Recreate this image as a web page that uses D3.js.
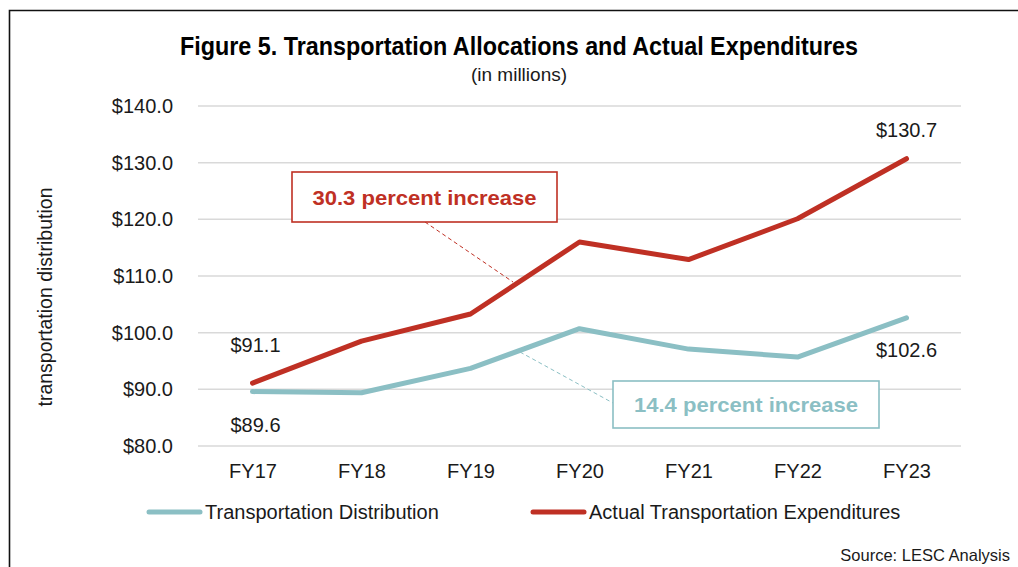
<!DOCTYPE html>
<head>
  <script src="https://d3js.org/d3.v7.min.js"></script>
  <title>Transportation Allocations and Actual Expenditures</title>
  <style>
    body {
      margin: 0;
      background-color: white;
    }
    text {
      font-family: "Liberation Sans", Arial, sans-serif;
      fill: #1a1a1a;
    }
  </style>
</head>
<div id="chart"></div>
<script>
  // data (millions of dollars)
  const years = ["FY17", "FY18", "FY19", "FY20", "FY21", "FY22", "FY23"];
  const distribution = [89.6, 89.4, 93.7, 100.7, 97.1, 95.7, 102.6];
  const expenditures = [91.1, 98.5, 103.3, 116.0, 112.9, 120.1, 130.7];
  const yTicks = [80, 90, 100, 110, 120, 130, 140];
  const seriesNames = ["Transportation Distribution", "Actual Transportation Expenditures"];
  const notes = ["30.3 percent increase", "14.4 percent increase"];

  const width = 1018;
  const height = 567;
  const blue = "#8bbfc4";
  const red = "#bf3024";

  const svg = d3.select("#chart").append("svg")
      .attr("width", width)
      .attr("height", height);

  // frame (only top and left edges show)
  svg.append("path")
      .attr("d", "M9.5,567V10.5H1018")
      .attr("fill", "none")
      .attr("stroke", "#111")
      .attr("stroke-width", 1.6);

  const x = d3.scalePoint().domain(years).range([198, 961]).padding(0.5);
  const y = d3.scaleLinear().domain([80, 140]).range([446, 106]);

  // gridlines
  svg.append("g")
    .selectAll("line")
    .data(yTicks)
    .join("line")
      .attr("x1", 198)
      .attr("x2", 961)
      .attr("y1", d => y(d))
      .attr("y2", d => y(d))
      .attr("stroke", "#d9d9d9")
      .attr("stroke-width", 1.5);

  // y axis labels
  const yAxis = svg.append("g")
      .attr("transform", "translate(173,0)")
      .call(d3.axisLeft(y).tickValues(yTicks).tickSize(0).tickPadding(0).tickFormat(d => "$" + d3.format(".1f")(d)));
  yAxis.select(".domain").remove();
  yAxis.selectAll("text")
      .attr("font-family", "'Liberation Sans', Arial, sans-serif")
      .attr("font-size", 20)
      .attr("fill", "#1a1a1a");

  // x axis labels
  const xAxis = svg.append("g")
      .attr("transform", "translate(0,471)")
      .call(d3.axisBottom(x).tickSize(0).tickPadding(0));
  xAxis.select(".domain").remove();
  xAxis.selectAll("text")
      .attr("dy", "0.35em")
      .attr("font-family", "'Liberation Sans', Arial, sans-serif")
      .attr("font-size", 20)
      .attr("fill", "#1a1a1a");

  // axis title
  svg.append("text")
      .attr("transform", "translate(45,297) rotate(-90)")
      .attr("text-anchor", "middle")
      .attr("dy", "0.35em")
      .attr("font-size", 19.5)
      .text("transportation distribution");

  // title
  svg.append("text")
      .attr("x", 519)
      .attr("y", 46)
      .attr("dy", "0.35em")
      .attr("text-anchor", "middle")
      .attr("font-family", "'Liberation Sans Narrow', 'DejaVu Sans Condensed', sans-serif")
      .attr("font-weight", "bold")
      .attr("font-size", 25)
      .attr("textLength", 678)
      .attr("lengthAdjust", "spacingAndGlyphs")
      .style("fill", "#000")
      .text("Figure 5. Transportation Allocations and Actual Expenditures");

  svg.append("text")
      .attr("x", 519)
      .attr("y", 74)
      .attr("dy", "0.35em")
      .attr("text-anchor", "middle")
      .attr("font-family", "'Liberation Sans Narrow', 'DejaVu Sans Condensed', sans-serif")
      .attr("font-size", 19)
      .text("(in millions)");

  // callouts: dashed leaders, boxes, text
  const callouts = [
    {text: notes[0], color: red, box: [292, 172, 557, 222], lead: [425, 222, 513, 282], ty: 198},
    {text: notes[1], color: blue, box: [613, 381, 879, 428], lead: [520, 352, 613, 403], ty: 405}
  ];
  callouts.forEach(c => {
    svg.append("line")
        .attr("x1", c.lead[0]).attr("y1", c.lead[1])
        .attr("x2", c.lead[2]).attr("y2", c.lead[3])
        .attr("stroke", c.color)
        .attr("stroke-width", 1)
        .attr("stroke-dasharray", "4,3");
  });

  // lines
  const line = d3.line()
      .x((d, i) => x(years[i]))
      .y(d => y(d));
  [[distribution, blue], [expenditures, red]].forEach(([vals, col]) => {
    svg.append("path")
        .datum(vals)
        .attr("d", line)
        .attr("fill", "none")
        .attr("stroke", col)
        .attr("stroke-width", 5)
        .attr("stroke-linecap", "round")
        .attr("stroke-linejoin", "round");
  });

  callouts.forEach(c => {
    svg.append("rect")
        .attr("x", c.box[0]).attr("y", c.box[1])
        .attr("width", c.box[2] - c.box[0])
        .attr("height", c.box[3] - c.box[1])
        .attr("fill", "white")
        .attr("stroke", c.color)
        .attr("stroke-width", 1.6);
    svg.append("text")
        .attr("x", (c.box[0] + c.box[2]) / 2)
        .attr("y", c.ty)
        .attr("dy", "0.35em")
        .attr("text-anchor", "middle")
        .attr("font-weight", "bold")
        .attr("font-size", 21)
        .attr("textLength", 224)
        .attr("lengthAdjust", "spacingAndGlyphs")
        .style("fill", c.color)
        .text(c.text);
  });

  // data labels at the ends
  const endLabels = [
    {v: expenditures[0], i: 0, dy: -38},
    {v: distribution[0], i: 0, dy: 33},
    {v: expenditures[6], i: 6, dy: -29},
    {v: distribution[6], i: 6, dy: 32}
  ];
  svg.append("g")
    .selectAll("text")
    .data(endLabels)
    .join("text")
      .attr("x", d => x(years[d.i]) + (d.i === 0 ? 3 : 0))
      .attr("y", d => y(d.v) + d.dy)
      .attr("dy", "0.35em")
      .attr("text-anchor", "middle")
      .attr("font-size", 20)
      .text(d => "$" + d3.format(".1f")(d.v));

  // legend
  const legendItems = [
    {name: seriesNames[0], color: blue, x0: 147},
    {name: seriesNames[1], color: red, x0: 531}
  ];
  const lg = svg.append("g")
    .selectAll("g")
    .data(legendItems)
    .join("g")
      .attr("transform", d => `translate(${d.x0},512)`);
  lg.append("line")
      .attr("x1", 2).attr("x2", 53)
      .attr("stroke", d => d.color)
      .attr("stroke-width", 5)
      .attr("stroke-linecap", "round");
  lg.append("text")
      .attr("x", 58)
      .attr("dy", "0.35em")
      .attr("font-size", 20)
      .text(d => d.name);

  svg.append("text")
      .attr("x", 1010)
      .attr("y", 555)
      .attr("dy", "0.35em")
      .attr("text-anchor", "end")
      .attr("font-size", 16.5)
      .text("Source: LESC Analysis");
</script>
